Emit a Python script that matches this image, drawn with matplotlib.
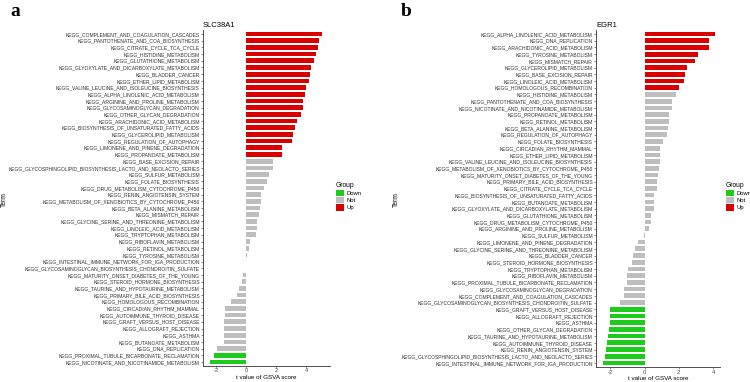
import matplotlib
matplotlib.use("Agg")
import matplotlib.pyplot as plt
from matplotlib.patches import Patch

plt.rcParams['font.family'] = ['Liberation Sans', 'DejaVu Sans']

# ---------------- Panel a : SLC38A1 ----------------
terms_a = [
    "KEGG_COMPLEMENT_AND_COAGULATION_CASCADES",
    "KEGG_PANTOTHENATE_AND_COA_BIOSYNTHESIS",
    "KEGG_CITRATE_CYCLE_TCA_CYCLE",
    "KEGG_HISTIDINE_METABOLISM",
    "KEGG_GLUTATHIONE_METABOLISM",
    "KEGG_GLYOXYLATE_AND_DICARBOXYLATE_METABOLISM",
    "KEGG_BLADDER_CANCER",
    "KEGG_ETHER_LIPID_METABOLISM",
    "KEGG_VALINE_LEUCINE_AND_ISOLEUCINE_BIOSYNTHESIS",
    "KEGG_ALPHA_LINOLENIC_ACID_METABOLISM",
    "KEGG_ARGININE_AND_PROLINE_METABOLISM",
    "KEGG_GLYCOSAMINOGLYCAN_DEGRADATION",
    "KEGG_OTHER_GLYCAN_DEGRADATION",
    "KEGG_ARACHIDONIC_ACID_METABOLISM",
    "KEGG_BIOSYNTHESIS_OF_UNSATURATED_FATTY_ACIDS",
    "KEGG_GLYCEROLIPID_METABOLISM",
    "KEGG_REGULATION_OF_AUTOPHAGY",
    "KEGG_LIMONENE_AND_PINENE_DEGRADATION",
    "KEGG_PROPANOATE_METABOLISM",
    "KEGG_BASE_EXCISION_REPAIR",
    "KEGG_GLYCOSPHINGOLIPID_BIOSYNTHESIS_LACTO_AND_NEOLACTO_SERIES",
    "KEGG_SULFUR_METABOLISM",
    "KEGG_FOLATE_BIOSYNTHESIS",
    "KEGG_DRUG_METABOLISM_CYTOCHROME_P450",
    "KEGG_RENIN_ANGIOTENSIN_SYSTEM",
    "KEGG_METABOLISM_OF_XENOBIOTICS_BY_CYTOCHROME_P450",
    "KEGG_BETA_ALANINE_METABOLISM",
    "KEGG_MISMATCH_REPAIR",
    "KEGG_GLYCINE_SERINE_AND_THREONINE_METABOLISM",
    "KEGG_LINOLEIC_ACID_METABOLISM",
    "KEGG_TRYPTOPHAN_METABOLISM",
    "KEGG_RIBOFLAVIN_METABOLISM",
    "KEGG_RETINOL_METABOLISM",
    "KEGG_TYROSINE_METABOLISM",
    "KEGG_INTESTINAL_IMMUNE_NETWORK_FOR_IGA_PRODUCTION",
    "KEGG_GLYCOSAMINOGLYCAN_BIOSYNTHESIS_CHONDROITIN_SULFATE",
    "KEGG_MATURITY_ONSET_DIABETES_OF_THE_YOUNG",
    "KEGG_STEROID_HORMONE_BIOSYNTHESIS",
    "KEGG_TAURINE_AND_HYPOTAURINE_METABOLISM",
    "KEGG_PRIMARY_BILE_ACID_BIOSYNTHESIS",
    "KEGG_HOMOLOGOUS_RECOMBINATION",
    "KEGG_CIRCADIAN_RHYTHM_MAMMAL",
    "KEGG_AUTOIMMUNE_THYROID_DISEASE",
    "KEGG_GRAFT_VERSUS_HOST_DISEASE",
    "KEGG_ALLOGRAFT_REJECTION",
    "KEGG_ASTHMA",
    "KEGG_BUTANOATE_METABOLISM",
    "KEGG_DNA_REPLICATION",
    "KEGG_PROXIMAL_TUBULE_BICARBONATE_RECLAMATION",
    "KEGG_NICOTINATE_AND_NICOTINAMIDE_METABOLISM",
]
values_a = [5.07, 4.87, 4.80, 4.69, 4.51, 4.35, 4.24, 4.22, 4.02, 3.93,
            3.80, 3.78, 3.67, 3.42, 3.27, 3.13, 3.09, 2.42, 2.40, 1.82,
            1.80, 1.55, 1.40, 1.20, 1.00, 0.97, 0.91, 0.87, 0.75, 0.73,
            0.64, 0.24, 0.17, 0.09, 0.02, -0.02, -0.18, -0.27, -0.47, -0.60,
            -1.00, -1.38, -1.42, -1.45, -1.47, -1.47, -1.48, -1.91, -2.16, -2.43]
groups_a = ["Up"] * 19 + ["Not"] * 29 + ["Down"] * 2

# ---------------- Panel b : EGR1 ----------------
terms_b = [
    "KEGG_ALPHA_LINOLENIC_ACID_METABOLISM",
    "KEGG_DNA_REPLICATION",
    "KEGG_ARACHIDONIC_ACID_METABOLISM",
    "KEGG_TYROSINE_METABOLISM",
    "KEGG_MISMATCH_REPAIR",
    "KEGG_GLYCEROLIPID_METABOLISM",
    "KEGG_BASE_EXCISION_REPAIR",
    "KEGG_LINOLEIC_ACID_METABOLISM",
    "KEGG_HOMOLOGOUS_RECOMBINATION",
    "KEGG_HISTIDINE_METABOLISM",
    "KEGG_PANTOTHENATE_AND_COA_BIOSYNTHESIS",
    "KEGG_NICOTINATE_AND_NICOTINAMIDE_METABOLISM",
    "KEGG_PROPANOATE_METABOLISM",
    "KEGG_RETINOL_METABOLISM",
    "KEGG_BETA_ALANINE_METABOLISM",
    "KEGG_REGULATION_OF_AUTOPHAGY",
    "KEGG_FOLATE_BIOSYNTHESIS",
    "KEGG_CIRCADIAN_RHYTHM_MAMMAL",
    "KEGG_ETHER_LIPID_METABOLISM",
    "KEGG_VALINE_LEUCINE_AND_ISOLEUCINE_BIOSYNTHESIS",
    "KEGG_METABOLISM_OF_XENOBIOTICS_BY_CYTOCHROME_P450",
    "KEGG_MATURITY_ONSET_DIABETES_OF_THE_YOUNG",
    "KEGG_PRIMARY_BILE_ACID_BIOSYNTHESIS",
    "KEGG_CITRATE_CYCLE_TCA_CYCLE",
    "KEGG_BIOSYNTHESIS_OF_UNSATURATED_FATTY_ACIDS",
    "KEGG_BUTANOATE_METABOLISM",
    "KEGG_GLYOXYLATE_AND_DICARBOXYLATE_METABOLISM",
    "KEGG_GLUTATHIONE_METABOLISM",
    "KEGG_DRUG_METABOLISM_CYTOCHROME_P450",
    "KEGG_ARGININE_AND_PROLINE_METABOLISM",
    "KEGG_SULFUR_METABOLISM",
    "KEGG_LIMONENE_AND_PINENE_DEGRADATION",
    "KEGG_GLYCINE_SERINE_AND_THREONINE_METABOLISM",
    "KEGG_BLADDER_CANCER",
    "KEGG_STEROID_HORMONE_BIOSYNTHESIS",
    "KEGG_TRYPTOPHAN_METABOLISM",
    "KEGG_RIBOFLAVIN_METABOLISM",
    "KEGG_PROXIMAL_TUBULE_BICARBONATE_RECLAMATION",
    "KEGG_GLYCOSAMINOGLYCAN_DEGRADATION",
    "KEGG_COMPLEMENT_AND_COAGULATION_CASCADES",
    "KEGG_GLYCOSAMINOGLYCAN_BIOSYNTHESIS_CHONDROITIN_SULFATE",
    "KEGG_GRAFT_VERSUS_HOST_DISEASE",
    "KEGG_ALLOGRAFT_REJECTION",
    "KEGG_ASTHMA",
    "KEGG_OTHER_GLYCAN_DEGRADATION",
    "KEGG_TAURINE_AND_HYPOTAURINE_METABOLISM",
    "KEGG_AUTOIMMUNE_THYROID_DISEASE",
    "KEGG_RENIN_ANGIOTENSIN_SYSTEM",
    "KEGG_GLYCOSPHINGOLIPID_BIOSYNTHESIS_LACTO_AND_NEOLACTO_SERIES",
    "KEGG_INTESTINAL_IMMUNE_NETWORK_FOR_IGA_PRODUCTION",
]
values_b = [4.11, 3.78, 3.76, 3.12, 2.95, 2.50, 2.35, 2.33, 2.02, 1.82,
            1.63, 1.59, 1.45, 1.42, 1.34, 1.30, 1.09, 0.91, 0.89, 0.89,
            0.85, 0.80, 0.70, 0.70, 0.56, 0.54, 0.54, 0.39, 0.35, 0.27,
            -0.04, -0.41, -0.54, -0.66, -0.74, -0.99, -1.01, -1.03, -1.18, -1.22,
            -1.41, -2.03, -2.02, -2.02, -2.09, -2.15, -2.17, -2.23, -2.32, -2.44]
groups_b = ["Up"] * 9 + ["Not"] * 32 + ["Down"] * 9

group_colors = {"Down": "#1ccb1c", "Not": "#bebebe", "Up": "#d90000"}
group_order = ["Down", "Not", "Up"]

W, H = 750, 382
fig = plt.figure(figsize=(W / 100, H / 100), dpi=100)

def fx(px):
    return px / W

def fy(py):
    return 1 - py / H

label_fs = 3.6
tick_fs = 4.2

def panel(rect, terms, values, groups, title, xlim, legend_xy, term_x, letter, letter_xy):
    ax = fig.add_axes(rect)
    n = len(terms)
    ypos = list(range(n - 1, -1, -1))
    cols = [group_colors[g] for g in groups]
    ax.barh(ypos, values, height=0.7, color=cols, edgecolor='none')
    ax.set_ylim(-0.6, n - 1 + 0.6)
    ax.set_xlim(*xlim)
    ax.set_yticks(ypos)
    ax.set_yticklabels(terms, fontsize=label_fs, color='#333333')
    ax.set_xticks([-2, 0, 2, 4])
    ax.set_xticklabels(["-2", "0", "2", "4"], fontsize=tick_fs, color='#4d4d4d')
    for s in ['top', 'right']:
        ax.spines[s].set_visible(False)
    for s in ['left', 'bottom']:
        ax.spines[s].set_linewidth(0.6)
        ax.spines[s].set_color('#333333')
    ax.tick_params(axis='y', length=1.5, width=0.4, pad=0.8, color='#333333')
    ax.tick_params(axis='x', length=1.2, width=0.4, pad=0.6, color='#333333')
    ax.set_xlabel("t value of GSVA score", fontsize=4.5, labelpad=0.8)
    ax.set_title(title, fontsize=5.5, loc='left', pad=2.5)
    fig.text(fx(term_x), fy(200), "Term", rotation=90, fontsize=4.8,
             ha='center', va='center')
    fig.text(fx(letter_xy[0]), fy(letter_xy[1]), letter, fontsize=14,
             fontweight='bold', family='Liberation Serif', ha='center', va='center')
    handles = [Patch(facecolor=group_colors[g], edgecolor='none', label=g) for g in group_order]
    leg = fig.legend(handles=handles, title="Group", loc='upper left',
                     bbox_to_anchor=(fx(legend_xy[0]), fy(legend_xy[1])),
                     frameon=False, fontsize=4.2, title_fontsize=4.8,
                     handlelength=1.3, handleheight=1.3, handletextpad=0.5,
                     labelspacing=0.15, borderpad=0, borderaxespad=0)
    leg._legend_box.align = "left"
    return ax

panel([fx(203), fy(366), fx(330) - fx(203), fy(30) - fy(366)],
      terms_a, values_a, groups_a, "SLC38A1", (-2.87, 5.6),
      (336, 182), 4, "a", (15, 11))
panel([fx(596), fy(367), fx(720) - fx(596), fy(30) - fy(367)],
      terms_b, values_b, groups_b, "EGR1", (-2.83, 4.4),
      (726, 182), 396, "b", (406, 12))

fig.savefig("out.png", dpi=100)
